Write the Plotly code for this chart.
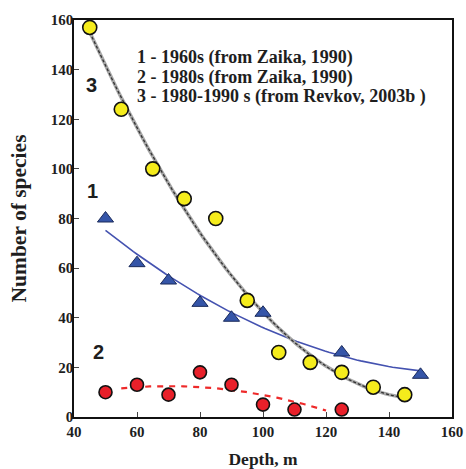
import numpy as np
import plotly.graph_objects as go

# Series 1 - 1960s (Zaika, 1990)
depth_1960 = [50, 60, 70, 80, 90, 100, 125, 150]
species_1960 = [80, 62, 55, 46, 40, 42, 26, 17]

# Series 2 - 1980s (Zaika, 1990)
depth_1980 = [50, 60, 70, 80, 90, 100, 110, 125]
species_1980 = [10, 13, 9, 18, 13, 5, 3, 3]

# Series 3 - 1980-1990s (Revkov, 2003b)
depth_revkov = [45, 55, 65, 75, 85, 95, 105, 115, 125, 135, 145]
species_revkov = [157, 124, 100, 88, 80, 47, 26, 22, 18, 12, 9]

x_ticks = [40, 60, 80, 100, 120, 140, 160]
y_ticks = [0, 20, 40, 60, 80, 100, 120, 140, 160]

legend_lines = [
    "1 - 1960s (from Zaika, 1990)",
    "2 - 1980s (from Zaika, 1990)",
    "3 - 1980-1990 s (from Revkov, 2003b )",
]


def trend(x, y, deg, x0, x1):
    c = np.polyfit(x, y, deg)
    xs = np.linspace(x0, x1, 80)
    return xs, np.polyval(c, xs)


serif = "Liberation Serif, Times New Roman, serif"
sans = "Liberation Sans, Arial, sans-serif"
ink = "#1e1e1e"

fig = go.Figure()

# trend lines
tx1, ty1 = trend(depth_1960, species_1960, 2, 50, 150)
fig.add_trace(go.Scatter(x=tx1, y=ty1, mode="lines",
                         line=dict(color="#4452b0", width=1.6), hoverinfo="skip"))
tx2, ty2 = trend(depth_1980, species_1980, 2, 55, 120)
fig.add_trace(go.Scatter(x=tx2, y=ty2, mode="lines",
                         line=dict(color="#ee2a2a", width=2.2, dash="6px,6px"), hoverinfo="skip"))
tx3, ty3 = trend(depth_revkov, species_revkov, 2, 45, 145)
fig.add_trace(go.Scatter(x=tx3, y=ty3, mode="lines",
                         line=dict(color="#a8a8a8", width=3.5), hoverinfo="skip"))
fig.add_trace(go.Scatter(x=tx3, y=ty3, mode="lines",
                         line=dict(color="#333333", width=1.3, dash="3px,2px"), hoverinfo="skip"))

# markers
fig.add_trace(go.Scatter(x=depth_1960, y=species_1960, mode="markers",
                         marker=dict(symbol="triangle-up", size=14, color="#3555a8",
                                     line=dict(color="#1a2a5a", width=1))))
fig.add_trace(go.Scatter(x=depth_1980, y=species_1980, mode="markers",
                         marker=dict(symbol="circle", size=13, color="#e8202a",
                                     line=dict(color="#111111", width=1.6))))
fig.add_trace(go.Scatter(x=depth_revkov, y=species_revkov, mode="markers",
                         marker=dict(symbol="circle", size=14, color="#f5ec1c",
                                     line=dict(color="#111111", width=1.6))))

# series number labels
for txt, xv, yv in [("3", 45.7, 133.8), ("1", 45.8, 91), ("2", 47.9, 26.2)]:
    fig.add_annotation(x=xv, y=yv, text=txt, showarrow=False,
                       font=dict(family=sans, size=20, color=ink, weight="bold"))

# legend text
for i, line in enumerate(legend_lines):
    fig.add_annotation(x=59.4, y=144.7 - i * 7.85, text=line, showarrow=False,
                       xanchor="left", yanchor="middle",
                       font=dict(family=serif, size=18, color=ink, weight="bold"))

fig.update_layout(
    width=466, height=469,
    margin=dict(l=74, r=14, t=20, b=52, autoexpand=False),
    paper_bgcolor="white", plot_bgcolor="white",
    showlegend=False,
    font=dict(family=serif, size=15, color=ink, weight="bold"),
)
fig.update_xaxes(range=[40, 160], tickvals=x_ticks, ticks="inside", ticklen=5,
                 showline=True, linecolor="#111111", linewidth=1.5, mirror=True,
                 showgrid=False, zeroline=False, automargin=False,
                 tickfont=dict(family=serif, size=15, color=ink, weight="bold"),
                 title=dict(text="Depth, m", standoff=14,
                            font=dict(family=serif, size=17.5, color=ink, weight="bold")))
fig.update_yaxes(range=[0, 160], tickvals=y_ticks, ticks="inside", ticklen=5,
                 ticklabelstandoff=-4,
                 showline=True, linecolor="#111111", linewidth=1.5, mirror=True,
                 showgrid=False, zeroline=False, automargin=False,
                 tickfont=dict(family=serif, size=15, color=ink, weight="bold"),
                 title=dict(text="Number of species", standoff=18,
                            font=dict(family=serif, size=21.5, color=ink, weight="bold")))

# remove the default 8px page margin so the figure fills the window exactly
fig.write_html("out.html", config={"displayModeBar": False},
               post_script="document.body.style.margin='0';")
